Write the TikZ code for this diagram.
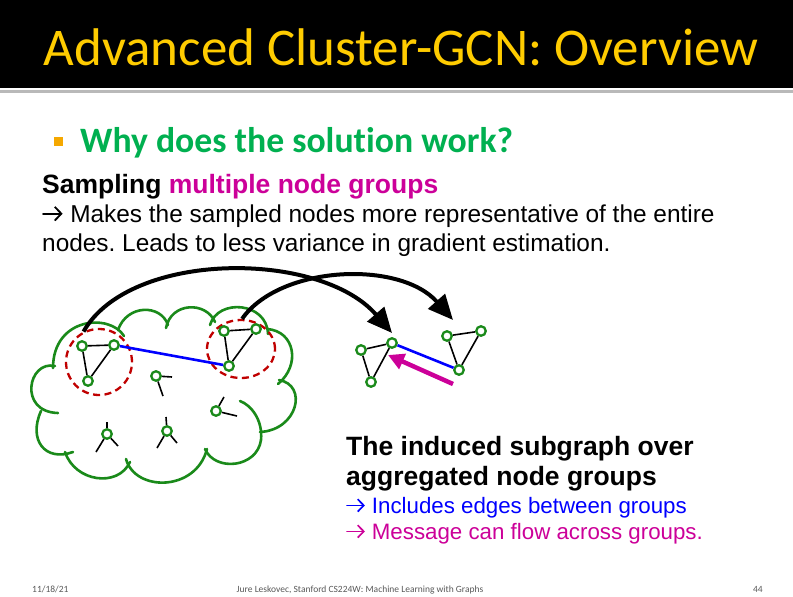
\documentclass[tikz,border=0pt]{standalone}
\usepackage{fontspec}
\setmainfont{Liberation Sans}
\newfontfamily\calibri[Ligatures=NoCommon]{Carlito}
\usetikzlibrary{arrows.meta,shapes.geometric}
\newcommand\myarrow{\tikz[baseline={(0pt,-0.34em)}]\draw[line width=0.075em, line cap=round, -{Straight Barb[length=0.27em,width=0.56em,line width=0.075em]}] (0pt,0pt) -- (0.8em,0pt);}
\definecolor{titleyellow}{HTML}{FFCC00}
\definecolor{bulletgreen}{HTML}{00B050}
\definecolor{bulletorange}{HTML}{F5A800}
\definecolor{mag}{HTML}{CC0099}
\definecolor{cloudgreen}{HTML}{1A8A1A}
\definecolor{redd}{HTML}{C00000}
\definecolor{footgray}{HTML}{595959}
\tikzset{
  txt/.style={anchor=base west, inner sep=0pt, execute at begin node=\frenchspacing},
  gnode/.style={circle, draw=cloudgreen, line width=2.3pt, fill=white, minimum size=9.5pt, inner sep=0pt},
  edge/.style={black, line width=1.6pt},
  bluee/.style={blue, line width=2.6pt},
  cloudline/.style={cloudgreen, line width=2.6pt, line cap=round},
  grp/.style={draw=redd, line width=2.3pt, dash pattern=on 7pt off 4.5pt, inner sep=0pt},
  bigarrow/.style={black, line width=4pt, -{Triangle[length=25pt,width=22pt]}},
  magarrow/.style={mag, line width=4.5pt, -{Triangle[length=16pt,width=16pt]}},
}
\begin{document}
\begin{tikzpicture}[x=1pt,y=-1pt]
\fill[white] (0,0) rectangle (793,597);
\useasboundingbox (0,0) rectangle (793,597);
% title bar
\fill[black] (0,0) rectangle (793,88);
\fill[gray!55] (0,90) rectangle (793,93);
\node[anchor=base, inner sep=0pt, font=\calibri\fontsize{53}{60}\selectfont, text=titleyellow] (title) at (401,65) {Advanced Cluster-GCN: Overview};
% bullet
\fill[bulletorange] (54,137) rectangle (63,146);
\node[txt, font=\calibri\bfseries\fontsize{35.7}{40}\selectfont, text=bulletgreen] (why) at (80,152) {Why does the solution work?};
\node[txt, font=\bfseries\fontsize{26.5}{30}\selectfont] (samp) at (42,193) {Sampling \textcolor{mag}{multiple node groups}};
\node[txt, font=\fontsize{24.4}{28}\selectfont] (l1) at (42,222) {\myarrow{} Makes the sampled nodes more representative of the entire};
\node[txt, font=\fontsize{24.4}{28}\selectfont] (l2) at (42,251) {nodes. Leads to less variance in gradient estimation.};
% bottom text
\node[txt, font=\bfseries\fontsize{26.5}{30}\selectfont] (b1) at (346,455) {The induced subgraph over};
\node[txt, font=\bfseries\fontsize{26.5}{30}\selectfont] (b2) at (346,485) {aggregated node groups};
\node[txt, font=\fontsize{22.3}{26}\selectfont, text=blue] (b3) at (346,513) {\myarrow{} Includes edges between groups};
\node[txt, font=\fontsize{22.3}{26}\selectfont, text=mag] (b4) at (346,539) {\myarrow{} Message can flow across groups.};
% footer
\node[txt, font=\calibri\fontsize{9.5}{11}\selectfont, text=footgray] (f1) at (32,592) {11/18/21};
\node[anchor=base, inner sep=0pt, font=\calibri\fontsize{9.5}{11}\selectfont, text=footgray] (f2) at (360,592) {Jure Leskovec, Stanford CS224W: Machine Learning with Graphs};
\node[anchor=base east, inner sep=0pt, font=\calibri\fontsize{9.5}{11}\selectfont, text=footgray] (f3) at (763,592) {44};
% cloud
\draw[cloudline] (55,366) .. controls (28,360) and (18,412) .. (58,413);
\draw[cloudline] (41,411) .. controls (28,440) and (45,462) .. (73,452);
\draw[cloudline] (65,452) .. controls (75,482) and (118,488) .. (130,462);
\draw[cloudline] (126,459) .. controls (135,492) and (196,492) .. (207,449);
\draw[cloudline] (205,449) .. controls (215,472) and (257,468) .. (261,440) .. controls (263,420) and (251,405) .. (240,401);
\draw[cloudline] (260,432) .. controls (298,430) and (308,385) .. (279,380);
\draw[cloudline] (278,384) .. controls (301,365) and (295,331) .. (267,329);
\draw[cloudline] (268,334) .. controls (267,302) and (218,298) .. (210,325);
\draw[cloudline] (215,322) .. controls (206,301) and (171,302) .. (166,328);
\draw[cloudline] (168,325) .. controls (161,304) and (127,304) .. (118,330);
\draw[cloudline] (124,336) .. controls (110,313) and (53,317) .. (53,368);
% groups
\node[grp, circle, minimum size=66pt] (g1) at (99,362) {};
\node[grp, ellipse, minimum width=68pt, minimum height=58pt] (g2) at (241,349) {};
% cluster nodes
\node[gnode] (A) at (82,346) {};
\node[gnode] (B) at (114,345) {};
\node[gnode] (C) at (88,381) {};
\node[gnode] (D) at (224,331) {};
\node[gnode] (E) at (256,329) {};
\node[gnode] (F) at (229,366) {};
\draw[edge] (A) -- (B); \draw[edge] (A) -- (C); \draw[edge] (B) -- (C);
\draw[edge] (D) -- (E); \draw[edge] (D) -- (F); \draw[edge] (E) -- (F);
\draw[bluee] (B) -- (F);
% singles with stubs
\node[gnode] (G) at (156,376) {};
\node[gnode] (H) at (216,411) {};
\node[gnode] (I) at (107,434) {};
\node[gnode] (J) at (167,431) {};
\coordinate (g1s) at (172,377); \coordinate (g2s) at (163,396);
\coordinate (h1s) at (224,397); \coordinate (h2s) at (237,416);
\coordinate (i1s) at (107,422); \coordinate (i2s) at (96,452); \coordinate (i3s) at (118,446);
\coordinate (j1s) at (166,417); \coordinate (j2s) at (157,448); \coordinate (j3s) at (177,443);
\draw[edge] (G) -- (g1s); \draw[edge] (G) -- (g2s);
\draw[edge] (H) -- (h1s); \draw[edge] (H) -- (h2s);
\draw[edge] (I) -- (i1s); \draw[edge] (I) -- (i2s); \draw[edge] (I) -- (i3s);
\draw[edge] (J) -- (j1s); \draw[edge] (J) -- (j2s); \draw[edge] (J) -- (j3s);
% right subgraph
\node[gnode] (K) at (361,350) {};
\node[gnode] (L) at (392,343) {};
\node[gnode] (M) at (371,382) {};
\node[gnode] (N) at (447,336) {};
\node[gnode] (O) at (481,331) {};
\node[gnode] (P) at (459,370) {};
\draw[edge] (K) -- (L); \draw[edge] (K) -- (M); \draw[edge] (L) -- (M);
\draw[edge] (N) -- (O); \draw[edge] (N) -- (P); \draw[edge] (O) -- (P);
\draw[bluee] (L) -- (P);
% arrows
\coordinate (t1) at (392,333);
\coordinate (t2) at (453,320);
\draw[bigarrow] (g1.117) .. controls (130,250) and (320,250) .. (t1);
\draw[bigarrow] (g2.88) .. controls (280,265) and (400,260) .. (t2);
\coordinate (ms) at (453,384);
\coordinate (me) at (388,355);
\draw[magarrow] (ms) -- (me);
\end{tikzpicture}
\end{document}
